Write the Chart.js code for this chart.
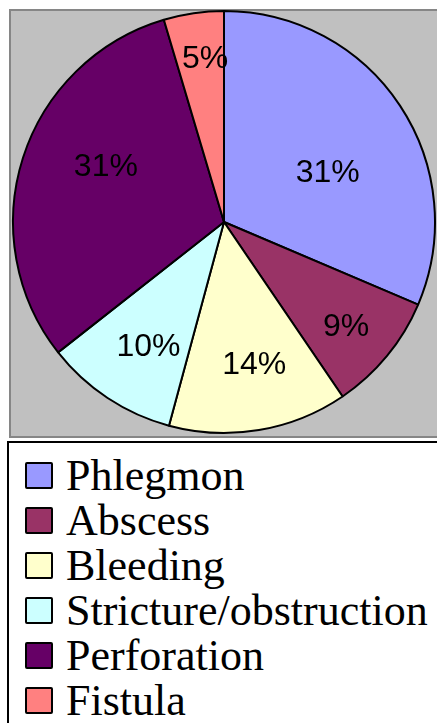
<!DOCTYPE html>
<html lang="en">
<head>
<meta charset="UTF-8">
<title>Complications pie</title>
<script src="https://cdn.jsdelivr.net/npm/chart.js@4.4.0/dist/chart.umd.min.js"></script>
<style>
  html, body { margin: 0; padding: 0; background: #fff; overflow: hidden; width: 437px; height: 723px; }
  #plotBox {
    position: absolute; left: 9px; top: 9px; width: 440px; height: 425px;
    background: #c0c0c0; border: 2px solid #868686;
  }
  #chartWrap { position: absolute; left: 0; top: 0; width: 437px; height: 436px; }
  #legendBox {
    position: absolute; left: 7px; top: 441px; width: 440px; height: 300px;
    background: #fff; border: 2px solid #000; box-sizing: border-box;
    padding-top: 10px;
  }
  .item {
    display: flex; align-items: center; height: 45px;
    font-family: "Liberation Serif", "Times New Roman", serif; font-size: 44px; line-height: 45px;
    color: #000; white-space: nowrap;
  }
  .swatch {
    width: 24px; height: 23px; border: 2px solid #000; border-radius: 2px;
    margin-left: 16px; margin-right: 13px; flex: none;
  }
</style>
</head>
<body>
<div id="plotBox"></div>
<div id="chartWrap"><canvas id="pie" width="437" height="436"></canvas></div>
<div id="legendBox"></div>
<script>
// data
const categories = ['Phlegmon', 'Abscess', 'Bleeding', 'Stricture/obstruction', 'Perforation', 'Fistula'];
const values = [31.4, 9.1, 13.7, 10.2, 31.0, 4.6];
const colors = ['#9999ff', '#993366', '#ffffcc', '#ccffff', '#660066', '#ff8080'];
// where each percentage label sits: fraction of radius, and fraction across the slice
const labelDist = [0.545, 0.76, 0.69, 0.69, 0.62, 0.78];
const labelAcross = [0.57, 0.53, 0.45, 0.44, 0.57, 0.6];

// draws the "31%" style labels inside the slices
const pctLabels = {
  id: 'pctLabels',
  afterDatasetsDraw(chart) {
    const ctx = chart.ctx;
    const meta = chart.getDatasetMeta(0);
    const total = values.reduce((a, b) => a + b, 0);
    ctx.save();
    ctx.font = '32px "Liberation Sans", Arial, sans-serif';
    ctx.fillStyle = '#000';
    ctx.textAlign = 'center';
    ctx.textBaseline = 'middle';
    meta.data.forEach((arc, i) => {
      const p = arc.getProps(['x', 'y', 'startAngle', 'endAngle', 'outerRadius'], true);
      const a = p.startAngle + (p.endAngle - p.startAngle) * labelAcross[i];
      const r = p.outerRadius * labelDist[i];
      const txt = Math.round(values[i] / total * 100) + '%';
      ctx.fillText(txt, p.x + Math.cos(a) * r, p.y + Math.sin(a) * r + 1);
    });
    ctx.restore();
  }
};

const chart = new Chart(document.getElementById('pie').getContext('2d'), {
  type: 'pie',
  data: {
    labels: categories,
    datasets: [{
      data: values,
      backgroundColor: colors,
      borderColor: '#000',
      borderWidth: 2
    }]
  },
  options: {
    responsive: false,
    animation: false,
    layout: { padding: { left: 11, right: 0, top: 10, bottom: 2 } },
    plugins: {
      legend: { display: false },
      tooltip: { enabled: false }
    }
  },
  plugins: [pctLabels]
});

// legend built from the chart's own data
const box = document.getElementById('legendBox');
chart.data.labels.forEach((lab, i) => {
  const row = document.createElement('div');
  row.className = 'item';
  const sw = document.createElement('span');
  sw.className = 'swatch';
  sw.style.background = chart.data.datasets[0].backgroundColor[i];
  const t = document.createElement('span');
  t.textContent = lab;
  row.appendChild(sw);
  row.appendChild(t);
  box.appendChild(row);
});
</script>
</body>
</html>
